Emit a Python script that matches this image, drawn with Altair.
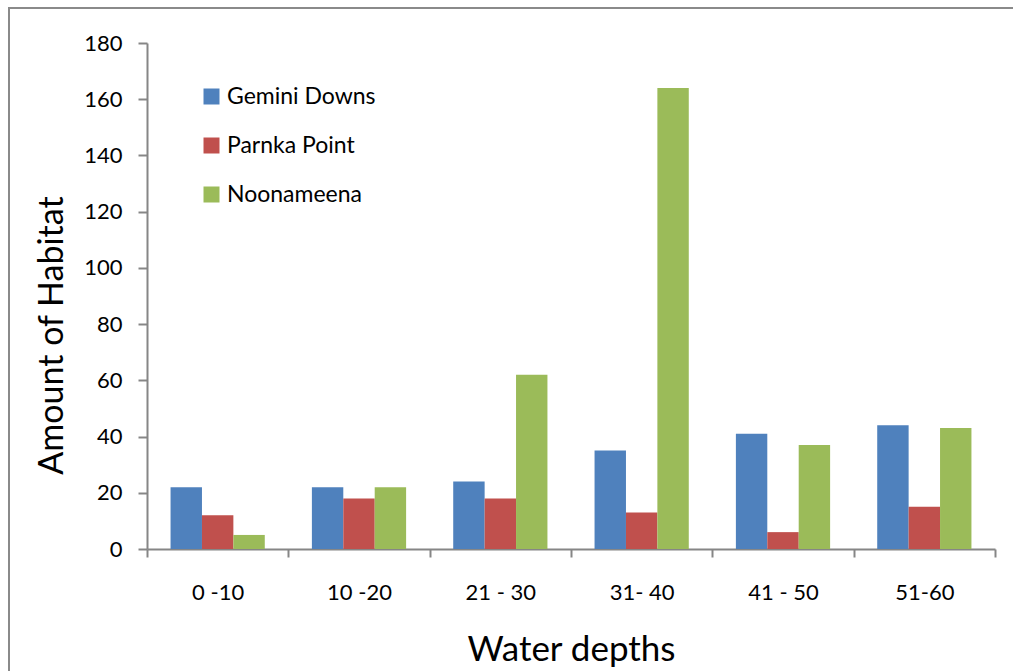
import altair as alt
import pandas as pd

depths = ["0 -10", "10 -20", "21 - 30", "31- 40", "41 - 50", "51-60"]
sites = ["Gemini Downs", "Parnka Point", "Noonameena"]
gemini_downs = [22, 22, 24, 35, 41, 44]
parnka_point = [12, 18, 18, 13, 6, 15]
noonameena = [5, 22, 62, 164, 37, 43]
site_colors = ["#4F81BD", "#C0504D", "#9BBB59"]
y_ticks = [0, 20, 40, 60, 80, 100, 120, 140, 160, 180]

rows = []
for site, vals in zip(sites, [gemini_downs, parnka_point, noonameena]):
    for d, v in zip(depths, vals):
        rows.append({"depth": d, "site": site, "value": v})
df = pd.DataFrame(rows)

FONT = "Lato"
AXIS_COLOR = "#868686"

bars = alt.Chart(df).mark_bar().encode(
    x=alt.X(
        "depth:N",
        sort=depths,
        scale=alt.Scale(paddingInner=0, paddingOuter=0),
        axis=alt.Axis(
            title="Water depths",
            labelAngle=0,
            tickBand="extent",
            labelFontSize=22,
            labelPadding=25,
            tickSize=8,
            titleFontSize=35,
            titleFontWeight="normal",
            titleY=111,
            titleBaseline="alphabetic",
        ),
    ),
    xOffset=alt.XOffset(
        "site:N",
        sort=sites,
        scale=alt.Scale(paddingInner=0, paddingOuter=0.75),
    ),
    y=alt.Y(
        "value:Q",
        scale=alt.Scale(domain=[0, 180], nice=False),
        axis=alt.Axis(
            title="Amount of Habitat",
            values=y_ticks,
            grid=False,
            labelFontSize=22,
            labelPadding=16,
            tickSize=9,
            titleFontSize=34,
            titleFontWeight="normal",
            titleAngle=270,
            titleX=-85,
            titleY=292,
            titleAlign="center",
            titleBaseline="alphabetic",
        ),
    ),
    color=alt.Color(
        "site:N",
        sort=sites,
        scale=alt.Scale(domain=sites, range=site_colors),
        legend=alt.Legend(
            title=None,
            orient="none",
            legendX=53,
            legendY=42,
            direction="vertical",
            symbolType="square",
            symbolSize=256,
            symbolStrokeWidth=0,
            symbolOpacity=1,
            labelFontSize=23,
            labelOffset=4,
            rowPadding=25,
            padding=0,
        ),
    ),
)

frame = alt.Chart(pd.DataFrame({"k": [0]})).mark_rect(
    fill="transparent", stroke="#8a8a8a", strokeWidth=2
).encode(
    x=alt.value(-138), x2=alt.value(900), y=alt.value(-35), y2=alt.value(660)
)

chart = alt.layer(frame, bars).properties(
    width=848,
    height=506,
    padding={"left": 147, "top": 43, "right": 18, "bottom": 122},
    autosize=alt.AutoSizeParams(type="none"),
    background="white",
).configure_view(
    strokeWidth=0
).configure_axis(
    domainColor=AXIS_COLOR,
    domainWidth=2,
    tickColor=AXIS_COLOR,
    tickWidth=2,
    labelColor="black",
    titleColor="black",
    labelFont=FONT,
    titleFont=FONT,
).configure_legend(
    labelFont=FONT, labelColor="black"
)

chart.save("out.html", embed_options={"renderer": "svg", "actions": False})
